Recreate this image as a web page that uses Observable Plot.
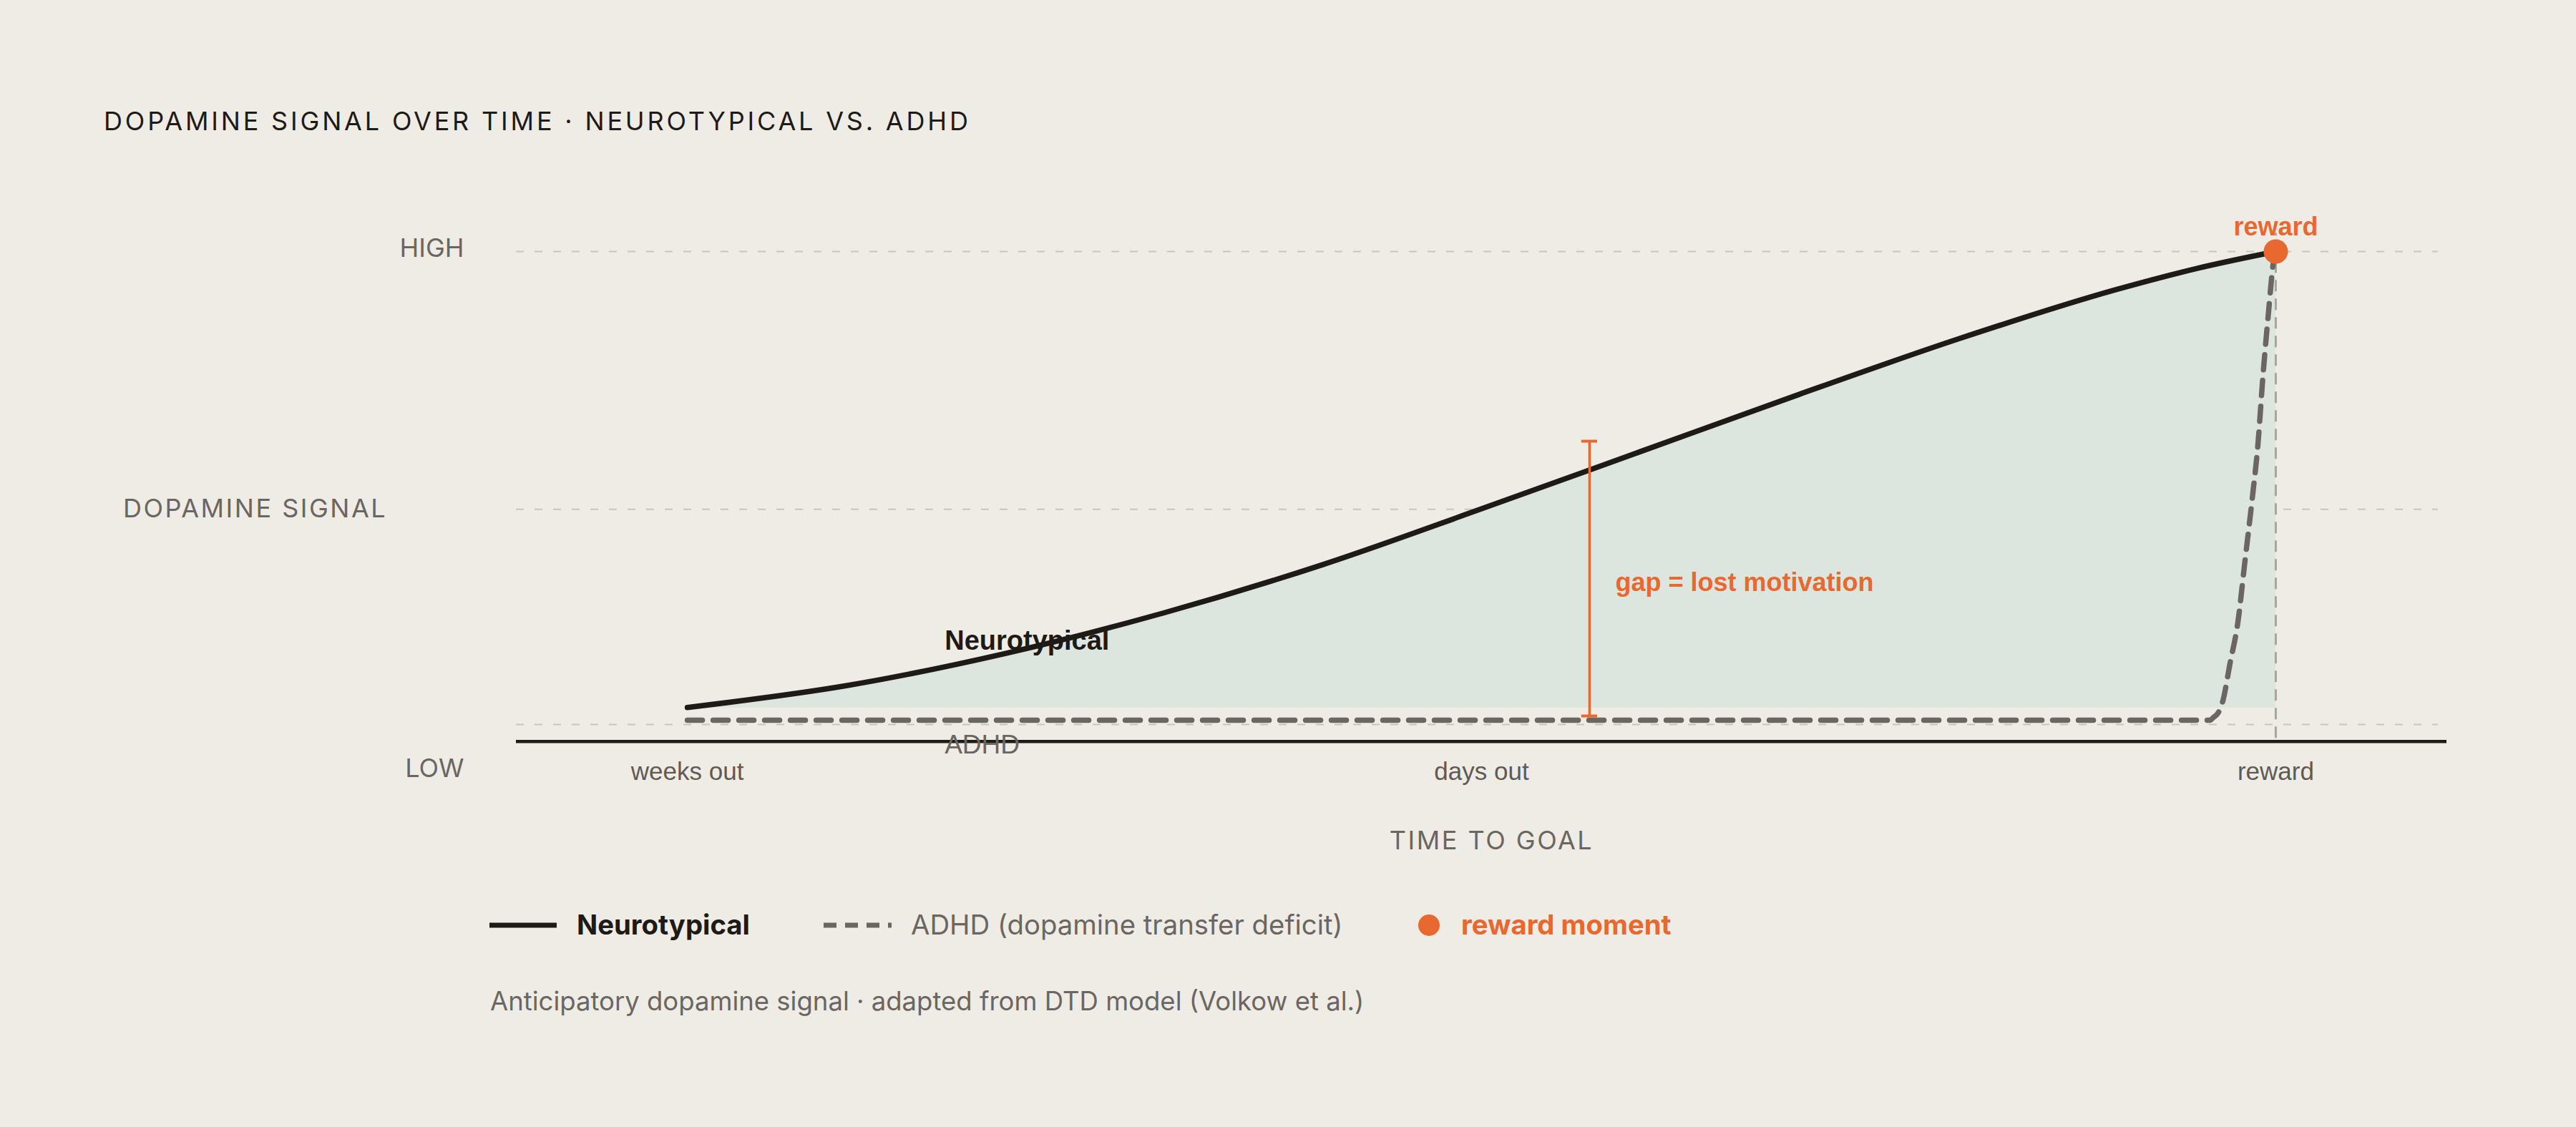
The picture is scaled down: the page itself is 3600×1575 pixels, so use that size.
<!DOCTYPE html>
<html>
<head>
<meta charset="utf-8">
<script src="https://cdn.jsdelivr.net/npm/d3@7"></script>
<script src="https://cdn.jsdelivr.net/npm/@observablehq/plot@0.6"></script>
<style>
  html, body { margin: 0; padding: 0; background: #efece6; }
  body { width: 3600px; height: 1575px; position: relative; overflow: hidden; font-family: Inter, "Noto Sans", sans-serif; }
  #title { position: absolute; left: 145px; top: 151px; font-size: 36px; line-height: 36px; letter-spacing: 0.106em; color: #1e1a16; white-space: nowrap; }
  #chart { position: absolute; left: 0; top: 250px; }
  .leg { position: absolute; top: 1273px; font-size: 38.3px; line-height: 38px; white-space: nowrap; }
  #swatches { position: absolute; left: 0; top: 1270px; }
  #caption { position: absolute; left: 685px; top: 1381px; font-size: 36.5px; line-height: 36px; color: #6b6661; white-space: nowrap; }
</style>
</head>
<body>
<div id="title">DOPAMINE SIGNAL OVER TIME · NEUROTYPICAL VS. ADHD</div>
<div id="chart"></div>
<svg id="swatches" width="2100" height="46">
  <line x1="684" x2="778" y1="23" y2="23" stroke="#1e1a16" stroke-width="7"></line>
  <line x1="1151" x2="1246" y1="23" y2="23" stroke="#6b6661" stroke-width="7" stroke-dasharray="18,12"></line>
  <circle cx="1997" cy="23" r="15" fill="#e8692f"></circle>
</svg>
<div class="leg" style="left:806px;font-weight:700;color:#1e1a16;">Neurotypical</div>
<div class="leg" style="left:1273px;color:#6b6661;">ADHD (dopamine transfer deficit)</div>
<div class="leg" style="left:2042px;font-weight:700;color:#e8692f;">reward moment</div>
<div id="caption">Anticipatory dopamine signal · adapted from DTD model (Volkow et al.)</div>
<script>
// ---- data ----
const tNT = [0, 0.1, 0.2, 0.3, 0.4, 0.5, 0.6, 0.7, 0.8, 0.9, 0.95, 1];
const vNT = [0.036, 0.082, 0.150, 0.236, 0.338, 0.456, 0.577, 0.698, 0.815, 0.920, 0.964, 1.0];
const tADHD = [0, 0.25, 0.5, 0.75, 0.9586, 0.9608, 0.9640, 0.9667, 0.9712, 0.9761, 0.9806, 0.9851, 0.9887, 0.9919, 0.9955, 0.9986, 1];
const vADHD = [0.009, 0.009, 0.009, 0.009, 0.009, 0.015, 0.026, 0.050, 0.129, 0.215, 0.345, 0.475, 0.589, 0.735, 0.874, 0.979, 1.0];
const xTicks = [0, 0.5, 1];
const xTickLabels = ["weeks out", "days out", "reward"];
const yGrid = [0, 0.455, 1];
const yEndLabels = ["HIGH", "LOW"];
const yEndValues = [1.006, -0.093];
const yMidLabel = "DOPAMINE SIGNAL";
const yMidValue = 0.455;
const xTitle = "TIME TO GOAL";
const reward = {t: 1, v: 1};
const gap = {t: 0.568, v1: 0.018, v2: 0.599};
const gapLabel = {t: 0.5842, v: 0.299, text: "gap = lost motivation"};
const ntLabel = {t: 0.162, v: 0.177, text: "Neurotypical"};
const adhdLabel = {t: 0.162, v: -0.044, text: "ADHD"};
const fillBase = 0.035;
const axisV = -0.036;
const xDomain = [-0.1077, 1.1023];
const axisEnd = 1.1077;

const nt = tNT.map((t, i) => ({t, v: vNT[i]}));
const adhd = tADHD.map((t, i) => ({t, v: vADHD[i]}));
const yEnds = yEndLabels.map((label, i) => ({label, v: yEndValues[i]}));

const ORANGE = "#e8692f", DARK = "#1e1a16", GRAY = "#6b6661";
const ARIAL = "'Liberation Sans', Arial, sans-serif";
const INTER = "Inter, 'Noto Sans', sans-serif";

const chart = Plot.plot({
  width: 3600,
  height: 1000,
  marginLeft: 721,
  marginRight: 193,
  marginTop: 101,
  marginBottom: 238,
  x: {domain: xDomain, axis: null},
  y: {domain: [0, 1], axis: null},
  style: {background: "transparent", fontFamily: ARIAL, fontSize: "35px", overflow: "visible"},
  marks: [
    Plot.ruleY(yGrid, {stroke: "#c9c5be", strokeWidth: 2, strokeDasharray: "11,15"}),
    Plot.areaY(nt, {x: "t", y1: fillBase, y2: "v", fill: "#dce5de", curve: "monotone-x"}),
    Plot.ruleX([reward], {x: "t", y1: -0.029, y2: 1.039, stroke: "#a8a49e", strokeWidth: 3, strokeDasharray: "16,10"}),
    Plot.ruleY([axisV], {x1: xDomain[0], x2: axisEnd, stroke: DARK, strokeWidth: 4.5}),
    Plot.lineY(adhd, {x: "t", y: "v", stroke: GRAY, strokeWidth: 7.5, strokeDasharray: "21,15", strokeLinecap: "round", curve: "monotone-x"}),
    Plot.lineY(nt, {x: "t", y: "v", stroke: DARK, strokeWidth: 7.5, strokeLinecap: "round", curve: "monotone-x"}),
    Plot.ruleX([gap], {x: "t", y1: "v1", y2: "v2", stroke: ORANGE, strokeWidth: 3.5}),
    Plot.ruleY([gap], {y: "v1", x1: d => d.t - 0.005, x2: d => d.t + 0.005, stroke: ORANGE, strokeWidth: 4}),
    Plot.ruleY([gap], {y: "v2", x1: d => d.t - 0.005, x2: d => d.t + 0.005, stroke: ORANGE, strokeWidth: 4}),
    Plot.dot([reward], {x: "t", y: "v", r: 17, fill: ORANGE}),
    Plot.text([reward], {x: "t", y: "v", text: () => "reward", dy: -34, textAnchor: "middle", fontWeight: "bold", fontSize: 36, fill: ORANGE, fontFamily: ARIAL}),
    Plot.text([gapLabel], {x: "t", y: "v", text: "text", textAnchor: "start", fontWeight: "bold", fontSize: 36, fill: ORANGE, fontFamily: ARIAL}),
    Plot.text([ntLabel], {x: "t", y: "v", text: "text", textAnchor: "start", fontWeight: "bold", fontSize: 38, fill: DARK, fontFamily: ARIAL}),
    Plot.text([adhdLabel], {x: "t", y: "v", text: "text", textAnchor: "start", fontSize: 37, fill: GRAY, fontFamily: ARIAL}),
    Plot.text(yEnds, {y: "v", text: "label", frameAnchor: "left", dx: -73, textAnchor: "end", fontSize: 36, fill: GRAY, fontFamily: INTER}),
    Plot.text([yMidLabel], {y: () => yMidValue, text: d => d, frameAnchor: "left", dx: -365, textAnchor: "middle", fontSize: 36, fill: GRAY, fontFamily: INTER}),
    Plot.text([xTitle], {text: d => d, frameAnchor: "bottom", dx: 20, dy: 174, textAnchor: "middle", fontSize: 36, fill: GRAY, fontFamily: INTER}),
    Plot.axisX(xTicks, {tickSize: 0, tickPadding: 53, label: null, tickFormat: d => xTickLabels[xTicks.indexOf(d)], fontSize: 35, color: "#5f5a55", fontFamily: ARIAL})
  ]
});
document.getElementById("chart").appendChild(chart);
d3.select(chart).selectAll("text").each(function() {
  const s = this.textContent;
  if (s === yMidLabel) this.setAttribute("letter-spacing", "2.5");
  if (s === xTitle) this.setAttribute("letter-spacing", "2.5");
});
</script>
</body>
</html>
